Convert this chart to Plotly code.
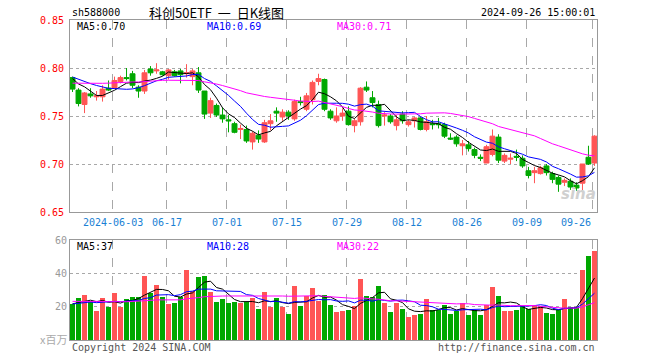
import plotly.graph_objects as go
import pandas as pd

# ---------------- data ----------------
symbol = "sh588000"
title_text = "科创50ETF\u00a0\u00a0一\u00a0\u00a0日K线图"
timestamp = "2024-09-26 15:00:01"

tick_labels = ["2024-06-03", "06-17", "07-01", "07-15", "07-29", "08-12", "08-26", "09-09", "09-26"]
tick_index = [7, 16, 26, 36, 46, 56, 66, 76, 87]

opens = [0.790, 0.777, 0.762, 0.773, 0.770, 0.770, 0.779, 0.779, 0.786, 0.790,
         0.794, 0.780, 0.776, 0.799, 0.797, 0.796, 0.792, 0.796, 0.797, 0.794,
         0.791, 0.795, 0.776, 0.753, 0.761, 0.751, 0.746, 0.742, 0.736, 0.736,
         0.723, 0.730, 0.723, 0.742, 0.755, 0.749, 0.754, 0.747, 0.765, 0.757,
         0.767, 0.786, 0.788, 0.755, 0.745, 0.750, 0.755, 0.740, 0.744, 0.780,
         0.769, 0.762, 0.750, 0.750, 0.740, 0.752, 0.741, 0.745, 0.748, 0.736,
         0.742, 0.742, 0.741, 0.727, 0.728, 0.719, 0.720, 0.715, 0.707, 0.701,
         0.710, 0.728, 0.703, 0.705, 0.708, 0.706, 0.693, 0.691, 0.690, 0.698,
         0.690, 0.686, 0.681, 0.682, 0.678, 0.680, 0.707, 0.701]
highs = [0.791, 0.779, 0.775, 0.779, 0.776, 0.782, 0.787, 0.791, 0.792, 0.800,
         0.797, 0.782, 0.798, 0.802, 0.805, 0.797, 0.799, 0.798, 0.799, 0.804,
         0.799, 0.801, 0.776, 0.769, 0.763, 0.759, 0.751, 0.744, 0.741, 0.740,
         0.734, 0.735, 0.746, 0.752, 0.759, 0.757, 0.756, 0.767, 0.770, 0.774,
         0.787, 0.794, 0.789, 0.757, 0.759, 0.758, 0.760, 0.747, 0.780, 0.786,
         0.776, 0.766, 0.754, 0.752, 0.751, 0.755, 0.746, 0.749, 0.749, 0.750,
         0.746, 0.748, 0.743, 0.732, 0.730, 0.725, 0.724, 0.717, 0.710, 0.720,
         0.736, 0.731, 0.711, 0.711, 0.715, 0.709, 0.697, 0.697, 0.698, 0.700,
         0.692, 0.688, 0.685, 0.685, 0.681, 0.700, 0.719, 0.730]
lows = [0.775, 0.760, 0.753, 0.769, 0.766, 0.765, 0.776, 0.778, 0.784, 0.787,
        0.779, 0.769, 0.773, 0.792, 0.794, 0.792, 0.788, 0.791, 0.784, 0.790,
        0.782, 0.774, 0.747, 0.748, 0.749, 0.743, 0.733, 0.732, 0.726, 0.722,
        0.715, 0.722, 0.722, 0.735, 0.744, 0.745, 0.746, 0.745, 0.761, 0.755,
        0.762, 0.782, 0.755, 0.746, 0.743, 0.745, 0.740, 0.733, 0.740, 0.775,
        0.759, 0.738, 0.740, 0.742, 0.735, 0.742, 0.739, 0.738, 0.735, 0.734,
        0.736, 0.737, 0.727, 0.725, 0.718, 0.709, 0.713, 0.706, 0.703, 0.701,
        0.708, 0.701, 0.701, 0.700, 0.703, 0.696, 0.685, 0.680, 0.689, 0.688,
        0.680, 0.671, 0.677, 0.673, 0.672, 0.671, 0.699, 0.698]
closes = [0.778, 0.763, 0.774, 0.771, 0.771, 0.778, 0.777, 0.787, 0.790, 0.789,
          0.782, 0.776, 0.795, 0.795, 0.798, 0.793, 0.798, 0.792, 0.793, 0.795,
          0.797, 0.777, 0.752, 0.766, 0.751, 0.747, 0.745, 0.733, 0.737, 0.724,
          0.732, 0.726, 0.743, 0.745, 0.753, 0.754, 0.750, 0.765, 0.764, 0.771,
          0.785, 0.789, 0.757, 0.748, 0.750, 0.753, 0.741, 0.745, 0.779, 0.777,
          0.764, 0.740, 0.751, 0.744, 0.746, 0.745, 0.744, 0.748, 0.736, 0.744,
          0.741, 0.741, 0.729, 0.726, 0.721, 0.721, 0.716, 0.709, 0.706, 0.718,
          0.729, 0.704, 0.709, 0.706, 0.707, 0.698, 0.688, 0.693, 0.696, 0.691,
          0.684, 0.679, 0.683, 0.676, 0.675, 0.700, 0.700, 0.729]
volumes = [21.6, 25.2, 27.0, 23.6, 17.6, 25.2, 19.8, 28.4, 19.8, 24.6,
           26.0, 25.6, 38.6, 28.4, 33.2, 25.8, 21.6, 22.4, 26.0, 42.0,
           29.4, 37.8, 38.4, 28.8, 23.0, 24.6, 22.2, 23.0, 22.2, 22.8,
           25.2, 18.6, 28.8, 19.8, 25.2, 19.8, 15.6, 32.4, 20.4, 26.4,
           31.2, 23.4, 27.0, 21.0, 17.0, 17.6, 18.2, 20.4, 36.6, 26.4,
           25.6, 32.4, 22.2, 16.8, 22.2, 18.6, 13.8, 15.0, 15.6, 24.6,
           18.0, 18.0, 21.0, 15.6, 17.4, 22.2, 15.0, 18.0, 15.0, 20.8,
           31.8, 26.4, 17.4, 17.4, 18.0, 20.4, 18.6, 20.4, 20.4, 16.2,
           15.6, 18.0, 24.6, 19.8, 19.8, 42.0, 50.6, 53.6]

# sessions before the visible window (only used to seed the moving averages)
prior_closes = [0.768, 0.775, 0.771, 0.776, 0.770, 0.772, 0.774, 0.780, 0.777, 0.781,
                0.776, 0.779, 0.783, 0.778, 0.790, 0.795, 0.792, 0.797, 0.794, 0.791,
                0.788, 0.793, 0.796, 0.790, 0.794, 0.791, 0.789, 0.795, 0.792]
prior_volumes = [24.0, 25.5, 23.0, 24.5, 22.5, 25.0, 23.5, 24.0, 26.0, 22.0,
                 24.5, 23.0, 25.0, 24.0, 23.5, 25.5, 22.5, 24.0, 23.0, 24.5,
                 21.0, 22.5, 20.5, 21.5, 22.0, 21.0, 22.5, 21.5, 22.0]

ma_periods = [5, 10, 30]
ma_colors = ["#000000", "#0000ff", "#ff00ff"]

# ---------------- styles ----------------
RED = "#ff5555"
GREEN = "#00a800"
GRID = "#a8a8a8"
MONO = "DejaVu Sans Mono"

n = len(closes)
idx = list(range(n))
npre = len(prior_closes)


def moving(series_prior, series, p):
    s = pd.Series(series_prior + series).rolling(p).mean()
    return s.tolist()[npre:]


price_ma = {p: moving(prior_closes, closes, p) for p in ma_periods}
vol_ma = {p: moving(prior_volumes, volumes, p) for p in ma_periods}
bar_colors = [RED if c >= o else GREEN for o, c in zip(opens, closes)]

fig = go.Figure()
fig.add_trace(go.Candlestick(
    x=idx, open=opens, high=highs, low=lows, close=closes,
    increasing=dict(line=dict(color=RED, width=1), fillcolor=RED),
    decreasing=dict(line=dict(color=GREEN, width=1), fillcolor=GREEN),
    whiskerwidth=0, showlegend=False, xaxis="x", yaxis="y"))
for p, col in zip(ma_periods, ma_colors):
    fig.add_trace(go.Scatter(x=idx, y=price_ma[p], mode="lines",
                             line=dict(color=col, width=1), showlegend=False,
                             xaxis="x", yaxis="y"))
fig.add_trace(go.Bar(x=idx, y=volumes, marker=dict(color=bar_colors, line=dict(width=0)),
                     width=0.8, showlegend=False, xaxis="x2", yaxis="y2"))
for p, col in zip(ma_periods, ma_colors):
    fig.add_trace(go.Scatter(x=idx, y=vol_ma[p], mode="lines",
                             line=dict(color=col, width=1), showlegend=False,
                             xaxis="x2", yaxis="y2"))

L, R, T, B = 70, 63, 20, 20
W, H = 660, 360
PW, PH = W - L - R, H - T - B


def px(x):
    return (x - L) / PW


def py(y):
    return (H - B - y) / PH


grid_pos = [i - 0.3 for i in tick_index]
xr = [-0.42, n - 1 + 0.42]
xcommon = dict(range=xr, tickvals=grid_pos, showticklabels=False, ticks="",
               showgrid=True, gridcolor=GRID, griddash="dash", gridwidth=1,
               showline=True, mirror=True, linecolor="#999999", linewidth=1,
               zeroline=False, fixedrange=True)

fig.update_layout(
    width=W, height=H, autosize=False,
    margin=dict(l=L, r=R, t=T, b=B, pad=0),
    paper_bgcolor="white", plot_bgcolor="white",
    boxgap=0.18, boxgroupgap=0,
    bargap=0,
    font=dict(family=MONO, size=10, color="#000"),
    xaxis=dict(domain=[0, 1], anchor="y", rangeslider=dict(visible=False), **xcommon),
    xaxis2=dict(domain=[0, 1], anchor="y2", **xcommon),
    yaxis=dict(domain=[py(212), 1], range=[0.65, 0.85],
               tickvals=[0.65, 0.70, 0.75, 0.80, 0.85], tickformat=".2f",
               tickfont=dict(family=MONO, size=10, color="#ff0000"), ticks="",
               ticklabelstandoff=3,
               showgrid=True, gridcolor=GRID, griddash="dot",
               showline=True, mirror=True, linecolor="#999999", linewidth=1,
               zeroline=False, fixedrange=True),
    yaxis2=dict(domain=[0, py(240)], range=[0, 60],
                tickvals=[20, 40, 60], tickfont=dict(family=MONO, size=10, color="#999999"),
                ticks="", showgrid=True, gridcolor=GRID, griddash="dot",
                showline=True, mirror=True, linecolor="#999999", linewidth=1,
                zeroline=False, fixedrange=True),
)

ann = []


def add(text, x, y, xanchor="left", color="#000", size=10, family=MONO, **kw):
    ann.append(dict(text=text, x=x, y=y, xref="paper", yref="paper",
                    xanchor=xanchor, yanchor="middle", showarrow=False,
                    font=dict(color=color, size=size, family=family), **kw))


add(symbol, px(70), py(13))
add(title_text, px(216), py(12), xanchor="center", size=13, family="Noto Sans CJK SC")
add(timestamp, px(597), py(13), xanchor="right")

# MA legends
leg_x = [75, 205, 335]
for p, col, lx in zip(ma_periods, ma_colors, leg_x):
    add(f"MA{p}:{price_ma[p][-1]:.2f}", px(lx), py(27), color=col)
    add(f"MA{p}:{vol_ma[p][-1]:.0f}", px(lx), py(246), color=col)

# date labels
for lab, i in zip(tick_labels, tick_index):
    last = (i == tick_index[-1])
    ann.append(dict(text=lab, x=i - 0.3, y=py(222), xref="x", yref="paper",
                    xanchor="right" if last else "center", yanchor="middle",
                    showarrow=False, font=dict(color="#1a7fd4", size=10, family=MONO)))

add("x百万", px(38), py(339), color="#aaaaaa", size=11, family="Noto Sans CJK SC")
add("Copyright 2024 SINA.COM", px(70), py(347), color="#555555")
add("http://finance.sina.com.cn", px(597), py(347), xanchor="right", color="#555555")
add("<i><b>sina</b></i>", px(598), py(194), xanchor="right", color="#d0d0d0", size=15,
    family="DejaVu Sans")

fig.update_layout(annotations=ann)
fig.write_html("out.html", config={"displayModeBar": False},
               post_script="document.body.style.margin='0';")
